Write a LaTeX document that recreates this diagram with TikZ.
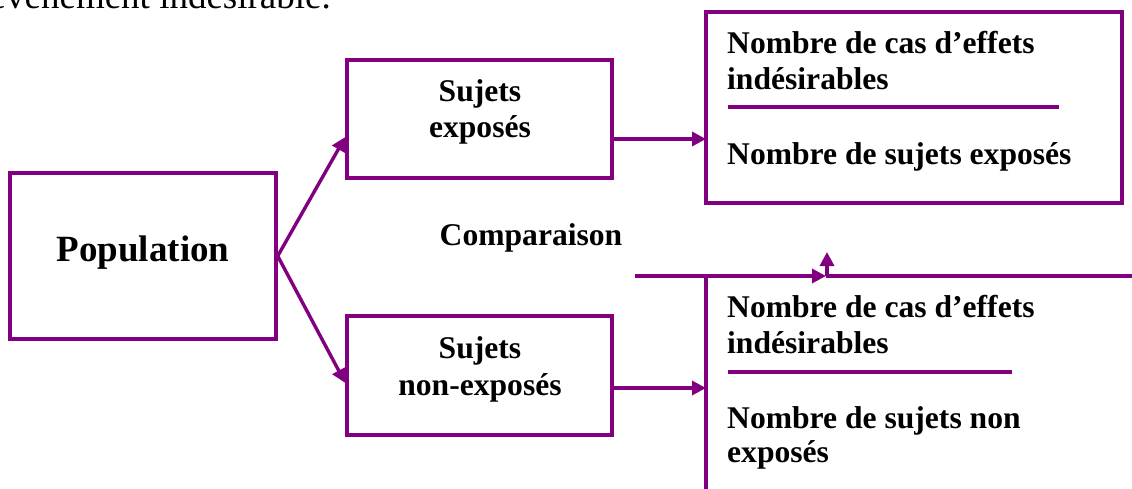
\documentclass[tikz,border=0pt]{standalone}
\usepackage{fontspec}
\setmainfont{Liberation Serif}
\usetikzlibrary{arrows.meta}
\definecolor{vio}{HTML}{800080}
\tikzset{
  x=1pt, y=-1pt,
  boxst/.style={draw=vio, line width=3.4pt, rectangle, inner sep=0pt},
  conn/.style={draw=vio, line width=3.4pt},
  arr/.style={conn, -{Triangle[length=14pt,width=14pt]}},
  bt/.style={font=\fontsize{31.6}{35}\selectfont\bfseries, inner sep=0pt},
}
\begin{document}
\begin{tikzpicture}
\useasboundingbox (0,0) rectangle (1132,489);
\clip (0,0) rectangle (1132,489);
% top cut text
\node[anchor=base east, inner sep=0pt, font=\fontsize{37}{40}\selectfont] (toptext) at (331,9) {événement indésirable.};
% boxes
\node[boxst, minimum width=266pt, minimum height=166pt] (pop) at (143,256) {};
\node[boxst, minimum width=265pt, minimum height=118pt] (exp) at (479.5,119) {};
\node[boxst, minimum width=265pt, minimum height=119pt] (nexp) at (479.5,375.5) {};
\node[boxst, minimum width=416pt, minimum height=191pt] (rtop) at (914,107.5) {};
% texts
\node[bt, anchor=base] (tpop) at (143,261) {\fontsize{37}{40}\selectfont Population};
\node[bt, anchor=base] (texp1) at (480,102) {Sujets};
\node[bt, anchor=base] (texp2) at (480,138) {exposés};
\node[bt, anchor=base] (tnexp1) at (480,358) {Sujets};
\node[bt, anchor=base] (tnexp2) at (480,395) {non-exposés};
\node[bt, anchor=base] (tcomp) at (531,245) {Comparaison};
\node[bt, anchor=base west] (r1) at (727,54) {Nombre de cas d’effets};
\node[bt, anchor=base west] (r2) at (727,90) {indésirables};
\node[bt, anchor=base west] (r3) at (727,165) {Nombre de sujets exposés};
\node[bt, anchor=base west] (s1) at (727,317) {Nombre de cas d’effets};
\node[bt, anchor=base west] (s2) at (727,353) {indésirables};
\node[bt, anchor=base west] (s3) at (727,428) {Nombre de sujets non};
\node[bt, anchor=base west] (s4) at (727,462) {exposés};
% fraction rules
\coordinate (ra) at (728,107); \coordinate (rb) at (1059,107);
\draw[conn] (ra) -- (rb);
\coordinate (sa) at (728,372); \coordinate (sb) at (1012,372);
\draw[conn] (sa) -- (sb);
% bottom right open box
\coordinate (hl) at (635,276);
\coordinate (hm) at (826,276);
\coordinate (hr) at (1140,276);
\coordinate (vt) at (706,276);
\coordinate (vb) at (706,495);
\coordinate (up) at (827,252);
\coordinate (upb) at (827,276);
\draw[conn] (vt) -- (vb);
\draw[arr] (hl) -- (hm);
\draw[conn] (hm) -- (hr);
\draw[arr] (upb) -- (up);
% connectors
\draw[arr] (pop.east) -- (exp.west |- 0,137);
\draw[arr] (pop.east) -- (nexp.west |- 0,383);
\coordinate (b1) at (706,139);
\draw[arr] (exp.east |- b1) -- (b1);
\coordinate (b2) at (706,388);
\draw[arr] (nexp.east |- b2) -- (b2);
\end{tikzpicture}
\end{document}
